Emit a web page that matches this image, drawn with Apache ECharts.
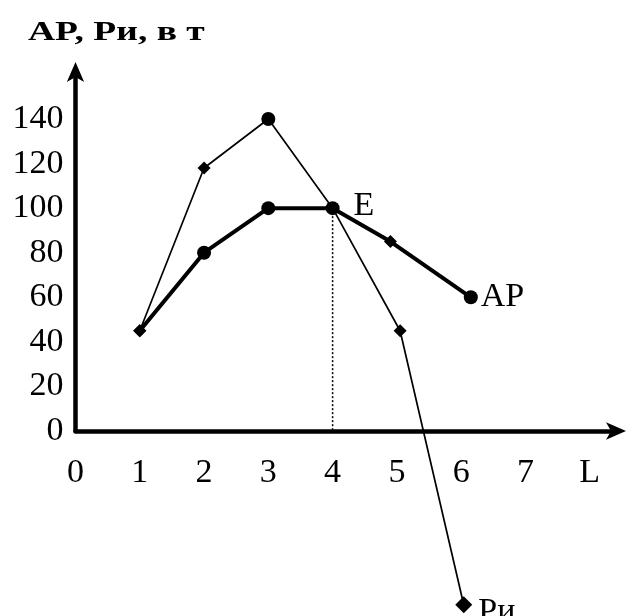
<!DOCTYPE html>
<html>
<head>
<meta charset="utf-8">
<script src="https://cdn.jsdelivr.net/npm/echarts@6/dist/echarts.min.js"></script>
<style>
    html, body { margin: 0; padding: 0; background: #fff; }
    #chart { width: 630px; height: 616px; }
</style>
</head>
<body>
<div id="chart"></div>
<script>
// значения с графика
var xTicks = ['0', '1', '2', '3', '4', '5', '6', '7', 'L'];
var yTicks = [0, 20, 40, 60, 80, 100, 120, 140];
var apX = [1, 2, 3, 4, 4.9, 6.15];
var apY = [45, 80, 100, 100, 85, 60];
var riX = [1, 2, 3, 4, 5.05, 6.04];
var riY = [45, 118, 140, 100, 45, -78];
var eX = 4;
var eY = 100;

var font = 'Liberation Serif';
// маркеры точек
var apMarks = ['diamond', 'circle', 'circle', 'circle', 'diamond', 'circle'];
var riMarks = ['diamond', 'diamond', 'circle', 'none', 'diamond', 'diamond'];

function markSize(m, last) {
    if (m == 'circle') return 14;
    return last ? 17 : 13;
}

var apData = apX.map(function (x, i) {
    var item = { value: [x, apY[i]], symbol: apMarks[i], symbolSize: markSize(apMarks[i], false) };
    if (i == apX.length - 1) {
        item.label = { show: true, formatter: 'AP', position: 'right', distance: 3 };
    }
    if (apX[i] == eX && apY[i] == eY) {
        item.label = { show: true, formatter: 'E', position: 'right', distance: 12, offset: [2, -2] };
    }
    return item;
});

var riData = riX.map(function (x, i) {
    var last = i == riX.length - 1;
    var item = { value: [x, riY[i]], symbol: riMarks[i], symbolSize: markSize(riMarks[i], last) };
    if (last) {
        item.label = { show: true, formatter: 'Pи', position: 'right', distance: 6, offset: [0, 7] };
    }
    return item;
});

var myChart = echarts.init(document.getElementById('chart'));

var option = {
    animation: false,
    backgroundColor: '#fff',
    textStyle: { fontFamily: font, color: '#000' },
    // подпись оси Y (растянута по ширине, как в оригинале)
    graphic: [{
        type: 'text',
        x: 28,
        y: 33,
        scaleX: 1.39,
        style: {
            text: 'AP, Pи, в т',
            font: 'bold 27px "Liberation Serif"',
            fill: '#000',
            verticalAlign: 'middle'
        }
    }],
    grid: { left: 75.5, right: 12, top: 70, bottom: 185 },
    xAxis: {
        type: 'value',
        min: 0,
        max: 8.44,
        interval: 1,
        axisLine: {
            onZero: false,
            symbol: ['none', 'arrow'],
            symbolSize: [13, 20],
            symbolOffset: [0, 8],
            lineStyle: { color: '#000', width: 4.5 }
        },
        axisTick: { show: false },
        splitLine: { show: false },
        axisLabel: {
            margin: 25,
            fontSize: 34,
            fontFamily: font,
            color: '#000',
            showMaxLabel: false,
            formatter: function (v) {
                return Number.isInteger(v) && v < xTicks.length ? xTicks[v] : '';
            }
        }
    },
    yAxis: {
        type: 'value',
        min: 0,
        max: 162,
        interval: 20,
        axisLine: {
            show: true,
            symbol: ['none', 'arrow'],
            symbolSize: [13, 20],
            symbolOffset: [0, 8],
            lineStyle: { color: '#000', width: 4.5 }
        },
        axisTick: { show: false },
        splitLine: { show: false },
        axisLabel: {
            margin: 12,
            fontSize: 34,
            fontFamily: font,
            color: '#000',
            showMaxLabel: false,
            formatter: function (v) {
                return yTicks.indexOf(v) >= 0 ? String(v) : '';
            }
        }
    },
    series: [
        {
            name: 'E',
            type: 'line',
            data: [[eX, eY], [eX, 0]],
            symbol: 'none',
            lineStyle: { color: '#000', width: 1.5, type: [2, 2] },
            z: 1
        },
        {
            name: 'Pи',
            type: 'line',
            data: riData,
            clip: false,
            lineStyle: { color: '#000', width: 1.7 },
            itemStyle: { color: '#000' },
            label: { fontFamily: font, fontSize: 34, color: '#000' },
            z: 2
        },
        {
            name: 'AP',
            type: 'line',
            data: apData,
            clip: false,
            lineStyle: { color: '#000', width: 4 },
            itemStyle: { color: '#000' },
            label: { fontFamily: font, fontSize: 34, color: '#000' },
            z: 3
        }
    ]
};

myChart.setOption(option);
</script>
</body>
</html>
